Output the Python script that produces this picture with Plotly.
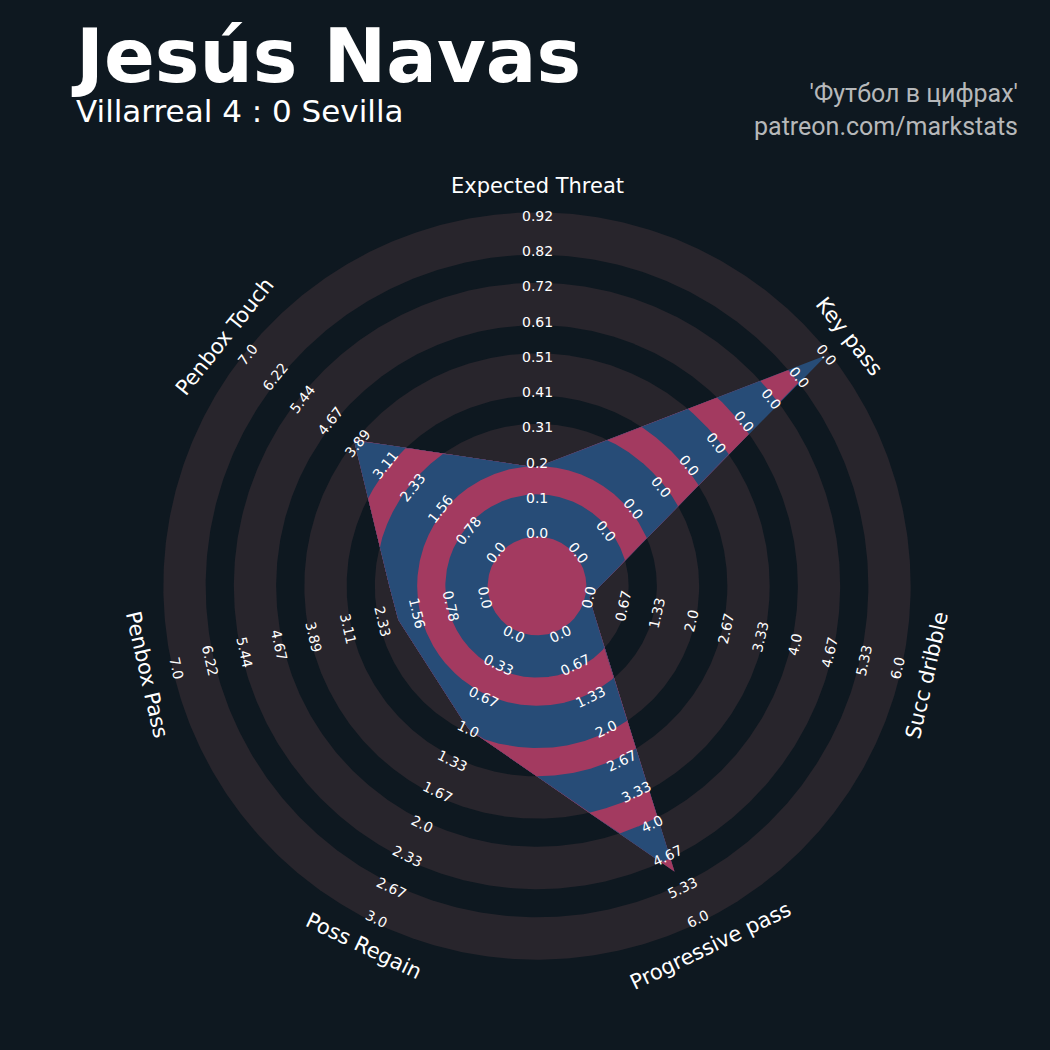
import numpy as np
import plotly.graph_objects as go

# ---------------- data ----------------
params = ["Expected Threat", "Key pass", "Succ dribble", "Progressive pass",
          "Poss Regain", "Penbox Pass", "Penbox Touch"]
values = [0.19, 0.0, 0.0, 5.0, 1.0, 2.0, 4.0]
range_low = [0.0, 0.0, 0.0, 0.0, 0.0, 0.0, 0.0]
range_high = [0.92, 0.0, 6.0, 6.0, 3.0, 7.0, 7.0]

title = "Jesús Navas"
subtitle = "Villarreal 4 : 0 Sevilla"
credit_1 = "'Футбол в цифрах'"
credit_2 = "patreon.com/markstats"

# ---------------- style ----------------
BG = "#0e1820"
RING = "#28252c"
BLUE = "#274c77"
PINK = "#a33a60"
TEXT = "#ffffff"
CREDIT = "#b6b8ba"
FONT = "DejaVu Sans"

N_LABELS = 10
R_MIN, R_MAX = 1.5, 10.5          # radius of lowest / highest range value
RING_BANDS = [(9.4, 10.6), (7.4, 8.6), (5.4, 6.6), (3.4, 4.6), (1.4, 2.6)]
CENTER_R = 1.4
PARAM_R = 11.35
PX = 35.25                        # pixels per radial unit
CX, CY = 537, 586                 # centre in pixels
W = H = 1050

n = len(params)
theta = np.deg2rad(90 - np.arange(n) * 360.0 / n)


def frac(v, lo, hi):
    return (v - lo) / (hi - lo) if hi > lo else 1.0


rad = np.array([R_MIN + frac(v, lo, hi) * (R_MAX - R_MIN)
                for v, lo, hi in zip(values, range_low, range_high)])
verts = np.column_stack([rad * np.cos(theta), rad * np.sin(theta)])


def cross(a, b):
    return a[..., 0] * b[..., 1] - a[..., 1] * b[..., 0]


def radial_extent(phi):
    u = np.column_stack([np.cos(phi), np.sin(phi)])
    out = np.zeros(len(phi))
    for i in range(n):
        p = np.broadcast_to(verts[i], u.shape)
        d = np.broadcast_to(verts[(i + 1) % n] - verts[i], u.shape)
        den = cross(u, d)
        with np.errstate(divide="ignore", invalid="ignore"):
            t = cross(p, d) / den
            s = cross(p, u) / den
        ok = (s >= -1e-9) & (s <= 1 + 1e-9) & (t > 0)
        out = np.where(ok, np.maximum(out, np.nan_to_num(t)), out)
    return out


phi = np.sort(np.concatenate([np.linspace(-np.pi, np.pi, 3000),
                              (theta + np.pi) % (2 * np.pi) - np.pi]))
Rphi = radial_extent(phi)

fig = go.Figure()

circ = np.linspace(0, 2 * np.pi, 721)


def disk(r, color):
    fig.add_trace(go.Scatter(x=r * np.cos(circ), y=r * np.sin(circ), mode="lines",
                             fill="toself", fillcolor=color, line=dict(width=0),
                             hoverinfo="skip", showlegend=False))


# background rings
for lo_b, hi_b in RING_BANDS:
    disk(hi_b, RING)
    disk(lo_b, BG)
disk(CENTER_R, RING)

# radar, coloured by band
edges = []
for lo_b, hi_b in RING_BANDS:
    edges.append((hi_b, BLUE))
    edges.append((lo_b, PINK))
for b, color in edges:
    rr = np.minimum(Rphi, b)
    fig.add_trace(go.Scatter(x=rr * np.cos(phi), y=rr * np.sin(phi), mode="lines",
                             fill="toself", fillcolor=color, line=dict(width=0),
                             hoverinfo="skip", showlegend=False))


def text_angle(angle_deg):
    r = angle_deg - 90
    r = (r + 180) % 360 - 180
    if r > 90:
        r -= 180
    if r < -90:
        r += 180
    return -r


annotations = []
for i in range(n):
    ang = np.rad2deg(theta[i])
    ta = text_angle(ang)
    labels = np.linspace(range_low[i], range_high[i], N_LABELS)
    radii = np.linspace(R_MIN, R_MAX, N_LABELS)
    for lab, r in zip(labels, radii):
        annotations.append(dict(x=r * np.cos(theta[i]), y=r * np.sin(theta[i]),
                                xref="x", yref="y", text=str(round(float(lab), 2)),
                                showarrow=False, textangle=ta,
                                font=dict(family=FONT, size=14, color=TEXT),
                                xanchor="center", yanchor="middle"))
    annotations.append(dict(x=PARAM_R * np.cos(theta[i]), y=PARAM_R * np.sin(theta[i]),
                            xref="x", yref="y", text=params[i], showarrow=False,
                            textangle=ta, font=dict(family=FONT, size=21, color=TEXT),
                            xanchor="center", yanchor="middle"))

annotations += [
    dict(x=69 / W, y=1 - 71 / H, xref="paper", yref="paper",
         text=("<span style='font-size:75px'><b>" + title + "</b></span><br>" + subtitle),
         showarrow=False, xanchor="left", yanchor="middle", align="left",
         font=dict(family=FONT, size=31, color=TEXT)),
    dict(x=1020 / W, y=1 - 110 / H, xref="paper", yref="paper",
         text=credit_1 + "<br>" + credit_2,
         showarrow=False, xanchor="right", yanchor="middle", align="right",
         font=dict(family="Roboto", size=25, color=CREDIT)),
]

fig.update_layout(
    width=W, height=H, autosize=False,
    margin=dict(l=0, r=0, t=0, b=0, pad=0),
    paper_bgcolor=BG, plot_bgcolor=BG,
    xaxis=dict(range=[(0 - CX) / PX, (W - CX) / PX], visible=False, fixedrange=True),
    yaxis=dict(range=[(CY - H) / PX, CY / PX], visible=False, fixedrange=True),
    annotations=annotations,
    showlegend=False,
)

fig.write_html("out.html", config={"displayModeBar": False},
               post_script="document.body.style.margin='0';")
